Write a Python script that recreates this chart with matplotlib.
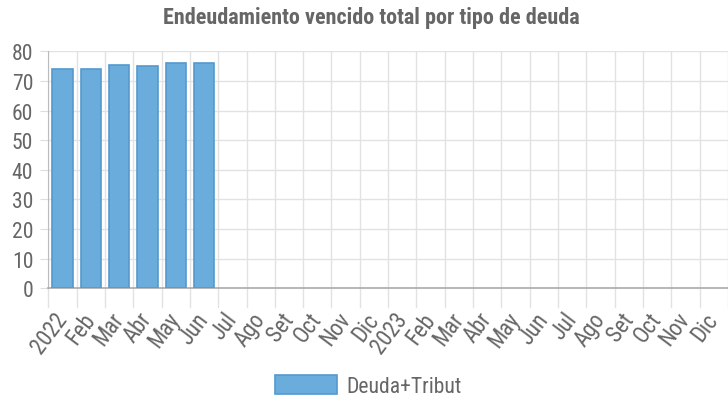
import matplotlib
matplotlib.use("Agg")
import matplotlib.pyplot as plt
from matplotlib.patches import Patch
from matplotlib import font_manager

categories = ["2022", "Feb", "Mar", "Abr", "May", "Jun", "Jul", "Ago", "Set", "Oct", "Nov", "Dic",
              "2023", "Feb", "Mar", "Abr", "May", "Jun", "Jul", "Ago", "Set", "Oct", "Nov", "Dic"]
values = [74.0, 74.0, 75.3, 75.2, 76.0, 76.0]
series_name = "Deuda+Tribut"
title = "Endeudamiento vencido total por tipo de deuda"
yticks = [0, 10, 20, 30, 40, 50, 60, 70, 80]

names = {f.name for f in font_manager.fontManager.ttflist}
fam = "Liberation Sans"
for cand in ["Liberation Sans Narrow", "Arial Narrow", "Roboto Condensed", "Archivo Narrow", "Liberation Sans"]:
    if cand in names:
        fam = cand
        break
plt.rcParams['font.family'] = [fam, 'DejaVu Sans']

fig = plt.figure(figsize=(7.28, 4.02), dpi=100)
renderer = fig.canvas.get_renderer()


def fit_size(text, target_px, weight='normal'):
    t = fig.text(0, 0, text, fontsize=10, fontweight=weight)
    w = t.get_window_extent(renderer=renderer).width
    t.remove()
    return 10 * target_px / w


tick_fs = fit_size("80", 21)
xtick_fs = tick_fs * 1.05
legend_fs = fit_size(series_name, 115)
title_fs = fit_size(title, 418, weight='bold')

ax = fig.add_axes([0.0663, 0.2803, 0.9337, 0.5896])

n = len(categories)
xs = list(range(len(values)))
ax.bar(xs, values, width=0.72, color='#6aaddc', edgecolor='#5598cf', linewidth=1.2, zorder=3)

ax.set_xlim(-0.5, n - 0.5)
ax.set_ylim(0, 80)
ax.set_yticks(yticks)
ax.set_yticklabels([str(v) for v in yticks], fontsize=tick_fs, color='#666666')
ax.set_xticks(range(n))
ax.set_xticklabels(categories, rotation=53, ha='right', va='center', rotation_mode='anchor',
                   fontsize=xtick_fs, color='#666666')
ax.tick_params(axis='x', length=0, pad=19)
ax.tick_params(axis='y', length=5.8, color='#dddddd', pad=5)

# vertical grid lines at category boundaries, extending below axis
for b in range(n + 1):
    ax.axvline(b - 0.5, color='#e2e2e2', linewidth=1, zorder=0)
    ax.plot([b - 0.5, b - 0.5], [0, -6.4], color='#e2e2e2', linewidth=1, clip_on=False, zorder=0)
for v in yticks[1:]:
    ax.axhline(v, color='#e2e2e2', linewidth=1, zorder=0)

for s in ['top', 'right']:
    ax.spines[s].set_visible(False)
ax.spines['left'].set_color('#bbbbbb')
ax.spines['bottom'].set_color('#aaaaaa')
ax.spines['bottom'].set_linewidth(1.2)

fig.text(0.51, 0.955, title, ha='center', va='center', fontsize=title_fs, fontweight='bold', color='#666666')

handle = Patch(facecolor='#6aaddc', edgecolor='#5598cf', linewidth=1.2)
fs_px = legend_fs / 0.72
fig.legend([handle], [series_name], loc='center', bbox_to_anchor=(0.506, 0.037),
           frameon=False, fontsize=legend_fs, handlelength=62 / fs_px, handleheight=20 / fs_px,
           handletextpad=10 / fs_px, labelcolor='#666666', borderpad=0.2)

fig.savefig("out.png", dpi=100)
